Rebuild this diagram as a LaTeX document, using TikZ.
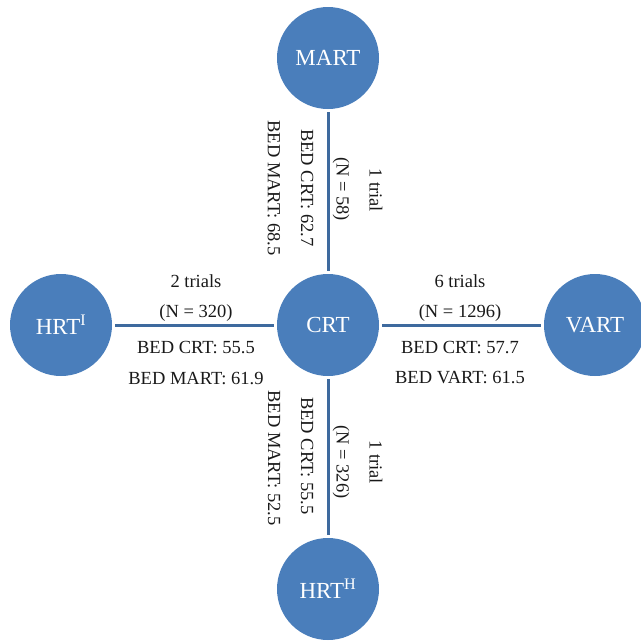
\documentclass[tikz,border=0pt]{standalone}
\usepackage{fontspec}
\setmainfont{Liberation Serif}
\definecolor{circfill}{RGB}{74,126,187}
\definecolor{linecol}{RGB}{62,106,158}
\definecolor{txt}{RGB}{25,25,25}
\tikzset{
  arm/.style={circle, fill=circfill, minimum size=102pt, inner sep=0pt, text=white, font=\fontsize{23}{26}\selectfont},
  link/.style={draw=linecol, line width=3pt, shorten <=3pt, shorten >=3pt},
  lbl/.style={text=txt, inner sep=0pt, font=\fontsize{18.5}{22}\selectfont},
  vlbl/.style={lbl, rotate=-90}
}
\begin{document}
\begin{tikzpicture}[x=1pt,y=-1pt]
\useasboundingbox (0,0) rectangle (641,641);
\node[arm] (CRT) at (328,325) {CRT};
\node[arm] (MART) at (328,58) {MART};
\node[arm] (HRTI) at (61,325) {HRT\textsuperscript{I}};
\node[arm] (VART) at (595,325) {VART};
\node[arm] (HRTH) at (328,589) {HRT\textsuperscript{H}};
\draw[link] (MART) -- (CRT);
\draw[link] (HRTI) -- (CRT);
\draw[link] (CRT) -- (VART);
\draw[link] (CRT) -- (HRTH);
% top
\node[vlbl] (t1) at (376,190) {1 trial};
\node[vlbl] (t2) at (341,189) {(N = 58)};
\node[vlbl] (t3) at (307,188) {BED CRT: 62.7};
\node[vlbl] (t4) at (274,188) {BED MART: 68.5};
% left
\node[lbl] (l1) at (196,281) {2 trials};
\node[lbl] (l2) at (196,313) {(N = 320)};
\node[lbl] (l3) at (196,347) {BED CRT: 55.5};
\node[lbl] (l4) at (196,378) {BED MART: 61.9};
% right
\node[lbl] (r1) at (460,281) {6 trials};
\node[lbl] (r2) at (460,313) {(N = 1296)};
\node[lbl] (r3) at (460,347) {BED CRT: 57.7};
\node[lbl] (r4) at (460,378) {BED VART: 61.5};
% bottom
\node[vlbl] (b1) at (376,462) {1 trial};
\node[vlbl] (b2) at (341,462) {(N = 326)};
\node[vlbl] (b3) at (307,456) {BED CRT: 55.5};
\node[vlbl] (b4) at (274,458) {BED MART: 52.5};
\end{tikzpicture}
\end{document}
